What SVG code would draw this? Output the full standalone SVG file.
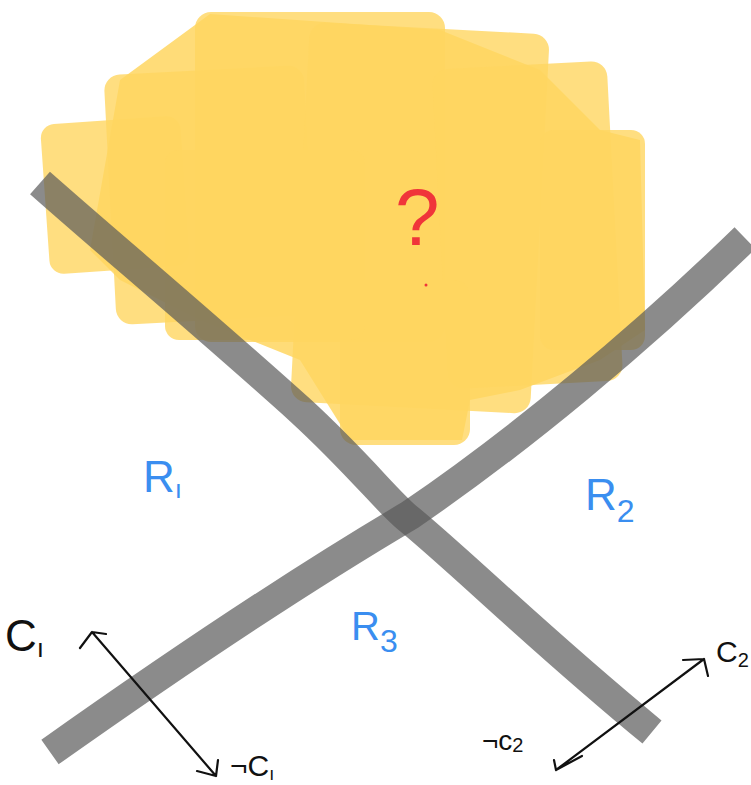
<svg xmlns="http://www.w3.org/2000/svg" width="751" height="785" viewBox="0 0 751 785">
<style>
.y{fill:#FFD660;opacity:0.8}
.bar{fill:none;stroke:#5a5a5a;stroke-opacity:0.7;stroke-width:30;stroke-linecap:butt;stroke-linejoin:round}
.bl{font-family:"Liberation Sans",Arial,sans-serif;fill:#3a8ef0}
.bk{font-family:"Liberation Sans",Arial,sans-serif;fill:#111}
.arr{fill:none;stroke:#111;stroke-width:2.2;stroke-linecap:round;stroke-linejoin:round}
</style>
<rect width="751" height="785" fill="#fff"/>
<g id="unknown-region">
<path d="M120 80 L210 14 L440 30 L540 70 L600 130 L640 140 L645 330 L600 360 L520 390 L470 400 L462 440 L350 440 L300 360 L200 320 L120 280 L90 250 Z" fill="#FFD660" opacity="0.85"/>
<rect class="y" x="45" y="120" width="140" height="150" rx="14" transform="rotate(-4 115 195)" opacity="0.6"/>
<rect class="y" x="110" y="70" width="200" height="250" rx="16" transform="rotate(-3 210 195)"/>
<rect class="y" x="195" y="12" width="250" height="330" rx="16"/>
<rect class="y" x="300" y="28" width="240" height="380" rx="16" transform="rotate(3 420 218)"/>
<rect class="y" x="440" y="65" width="175" height="320" rx="16" transform="rotate(-3 527 225)"/>
<rect class="y" x="540" y="130" width="105" height="220" rx="14"/>
<rect class="y" x="340" y="280" width="130" height="165" rx="16"/>
<rect class="y" x="165" y="150" width="200" height="190" rx="14"/>
<text x="395" y="245" font-family="Liberation Sans,Arial,sans-serif" font-size="80" fill="#f0353a" font-weight="300">?</text>
<circle cx="426" cy="285" r="1.5" fill="#f0353a"/>
</g>
<g id="connectors">
<path id="c1-line" class="bar" d="M40 183 C110 245 200 320 300 410 C360 465 390 505 410 520 C470 570 540 640 652 732"/>
<path id="c2-line" class="bar" d="M50 752 C180 660 300 580 410 515 C520 440 640 340 745 238"/>
<path class="arr" d="M92 632 L216 776 M80 648 L92 632 L106 634 M197 771 L216 776 L218 760"/>
<path class="arr" d="M704 659 L556 770 M683 660 L704 659 L708 676 M554 760 L556 770 M556 770 L582 756"/>
</g>
<g id="labels">
<text class="bk" x="5" y="651" font-size="44">C<tspan font-size="26" dy="6">ı</tspan></text>
<text class="bk" x="230" y="776" font-size="30">¬C<tspan font-size="18" dy="4">ı</tspan></text>
<text class="bk" x="482" y="750" font-size="28">¬c<tspan font-size="20" dy="2">2</tspan></text>
<text class="bk" x="716" y="662" font-size="30">C<tspan font-size="20" dy="5">2</tspan></text>
<text class="bl" x="143" y="492" font-size="44">R<tspan font-size="26" dy="6">ı</tspan></text>
<text class="bl" x="585" y="510" font-size="44">R<tspan font-size="32" dy="12">2</tspan></text>
<text class="bl" x="351" y="640" font-size="40">R<tspan font-size="32" dy="12">3</tspan></text>
</g>
</svg>
